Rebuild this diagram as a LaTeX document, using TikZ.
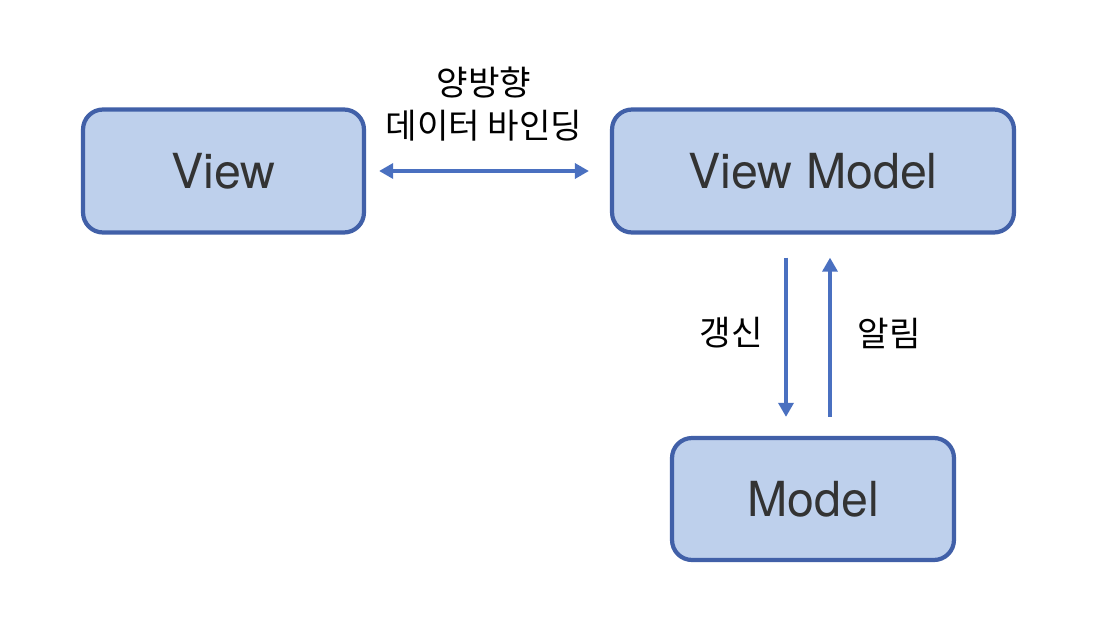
\documentclass[tikz,border=0pt]{standalone}
\usepackage{fontspec}
\setmainfont{TeX Gyre Heros}
\newfontfamily\kr{Noto Sans CJK KR}
\usetikzlibrary{arrows.meta}
\definecolor{boxline}{HTML}{4160A8}
\definecolor{boxfill}{HTML}{BED0EC}
\definecolor{arrowc}{HTML}{4A70C0}
\definecolor{txt}{HTML}{333333}

\begin{document}
\begin{tikzpicture}[x=0.02cm,y=-0.02cm,
 box/.style={rectangle,rounded corners=0.4cm,draw=boxline,fill=boxfill,line width=2.4pt,
   text=txt,font=\fontsize{27.5}{32}\selectfont,minimum height=2.46cm},
 lbl/.style={font=\kr\fontsize{19.5}{24.5}\selectfont,align=center},
 flow/.style={draw=arrowc,line width=2.3pt,-{Triangle[length=8pt,width=8.5pt]}}]
\useasboundingbox (0,0) rectangle (1096,642);
\node[box,minimum width=5.62cm] (view) at (223.5,171) {View};
\node[box,minimum width=8.04cm] (vm) at (813,171) {View Model};
\node[box,minimum width=5.64cm,minimum height=2.44cm] (model) at (813,499) {Model};
\node[lbl] (bind) at (484,104.5) {양방향\\데이터 바인딩};
\node[lbl] (upd) at (731,333) {갱신};
\node[lbl] (noti) at (889,333) {알림};

\draw[flow,{Triangle[length=8pt,width=8.5pt]}-{Triangle[length=8pt,width=8.5pt]},shorten <=13*0.02cm,shorten >=21*0.02cm] (view.east) -- (vm.west);
\draw[flow,shorten <=23*0.02cm,shorten >=19*0.02cm] ([xshift=-27*0.02cm]vm.south) -- ([xshift=-27*0.02cm]model.north);
\draw[flow,shorten <=19*0.02cm,shorten >=23*0.02cm] ([xshift=17*0.02cm]model.north) -- ([xshift=17*0.02cm]vm.south);
\end{tikzpicture}
\end{document}
